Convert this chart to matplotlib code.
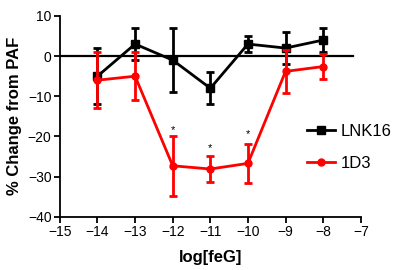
import matplotlib
matplotlib.use('Agg')
import matplotlib.pyplot as plt
from matplotlib.lines import Line2D

plt.rcParams['font.family'] = ['Liberation Sans', 'DejaVu Sans']

dose = [-14, -13, -12, -11, -10, -9, -8]
lnk16 = [-5, 3, -1, -8, 3, 2, 4]
lnk16_err = [7, 4, 8, 4, 2, 4, 3]
d13 = [-6, -5, -27.3, -28.1, -26.7, -3.8, -2.6]
d13_err = [7, 6, 7.5, 3.2, 4.8, 5.3, 3.2]
star_dose = [-12, -11, -10]
star_y = [-18.5, -23, -19.5]

fig = plt.figure(figsize=(4.1, 2.7), dpi=100)
ax = fig.add_axes([0.146, 0.197, 0.734, 0.744])

ax.axhline(0, xmin=0, xmax=0.975, color='black', lw=1.6, zorder=1)
ax.errorbar(dose, lnk16, yerr=lnk16_err, color='black', marker='s', ms=6,
            lw=2, elinewidth=2, capsize=3, capthick=2, zorder=3)
ax.errorbar(dose, d13, yerr=d13_err, color='#ff0000', marker='o', ms=5,
            lw=2, elinewidth=2, capsize=3, capthick=2, zorder=4)
for x, y in zip(star_dose, star_y):
    ax.text(x, y, '*', ha='center', va='center', fontsize=8)

ax.set_xlim(-15, -7)
ax.set_ylim(-40, 10)
ax.set_xticks(range(-15, -6))
ax.set_yticks(range(-40, 11, 10))
ax.tick_params(direction='out', length=4, width=1.3, labelsize=10, pad=2)
for s in ['top', 'right']:
    ax.spines[s].set_visible(False)
for s in ['left', 'bottom']:
    ax.spines[s].set_linewidth(1.3)

ax.set_xlabel('log[feG]', fontsize=12, fontweight='bold', labelpad=8)
ax.set_ylabel('% Change from PAF', fontsize=12, fontweight='bold', labelpad=4)

handles = [Line2D([], [], color='black', marker='s', ms=6, lw=2),
           Line2D([], [], color='#ff0000', marker='o', ms=5, lw=2)]
ax.legend(handles, ['LNK16', '1D3'], loc='center left',
          bbox_to_anchor=(0.82, 0.345), frameon=False, borderaxespad=0,
          borderpad=0, fontsize=12, handlelength=1.7, handletextpad=0.35,
          labelspacing=1.0)

fig.savefig('out.png', dpi=100)
